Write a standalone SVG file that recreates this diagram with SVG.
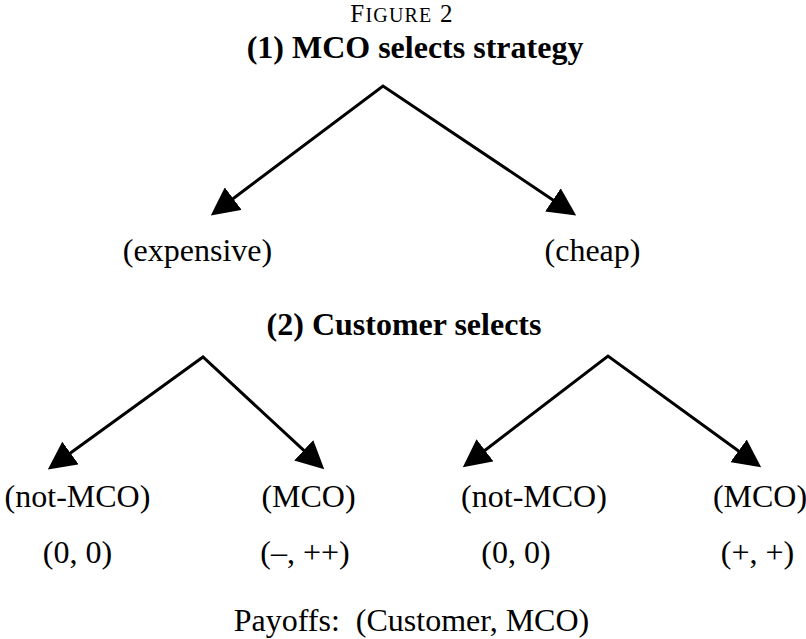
<svg xmlns="http://www.w3.org/2000/svg" width="806" height="639" viewBox="0 0 806 639">
<style>
  text { font-family: "Liberation Serif", "Times New Roman", serif; fill: #000; text-anchor: middle; }
  .b { font-weight: bold; font-size: 32px; }
  .r { font-size: 32px; }
  .cap { font-size: 25px; }
  .conn { fill: none; stroke: #000; stroke-width: 3; stroke-linejoin: miter; marker-start: url(#ah); marker-end: url(#ah); }
</style>
<defs>
  <marker id="ah" markerUnits="userSpaceOnUse" markerWidth="28" markerHeight="28" refX="9" refY="14" orient="auto-start-reverse">
    <path d="M0,0 L28,14 L0,28 z" fill="#000"/>
  </marker>
</defs>
<rect width="806" height="639" fill="#fff"/>
<g id="heading">
  <text class="cap" x="402" y="22" letter-spacing="1.2">F<tspan font-size="20px">IGURE</tspan> 2</text>
</g>
<g id="node-mco">
  <text class="b" x="415" y="58">(1) MCO selects strategy</text>
</g>
<g id="node-expensive">
  <text class="r" x="197.5" y="261">(expensive)</text>
</g>
<g id="node-cheap">
  <text class="r" x="592.5" y="261">(cheap)</text>
</g>
<g id="node-customer">
  <text class="b" x="404" y="335">(2) Customer selects</text>
</g>
<g id="leaf-exp-notmco">
  <text class="r" x="77.5" y="507">(not-MCO)</text>
  <text class="r" x="77.5" y="563">(0, 0)</text>
</g>
<g id="leaf-exp-mco">
  <text class="r" x="308.5" y="507">(MCO)</text>
  <text class="r" x="305" y="563">(–, ++)</text>
</g>
<g id="leaf-cheap-notmco">
  <text class="r" x="534" y="507">(not-MCO)</text>
  <text class="r" x="516" y="563">(0, 0)</text>
</g>
<g id="leaf-cheap-mco">
  <text class="r" x="760" y="507">(MCO)</text>
  <text class="r" x="757.5" y="563">(+, +)</text>
</g>
<g id="legend">
  <text class="r" x="411.5" y="631" xml:space="preserve">Payoffs:  (Customer, MCO)</text>
</g>
<g id="connectors">
  <path class="conn" d="M226,204 L383,86 L560.4,204.9"/>
  <path class="conn" d="M63.2,458.3 L203,357 L310.3,456.4"/>
  <path class="conn" d="M477.9,455.8 L608,356 L745.8,456.2"/>
</g>
</svg>
